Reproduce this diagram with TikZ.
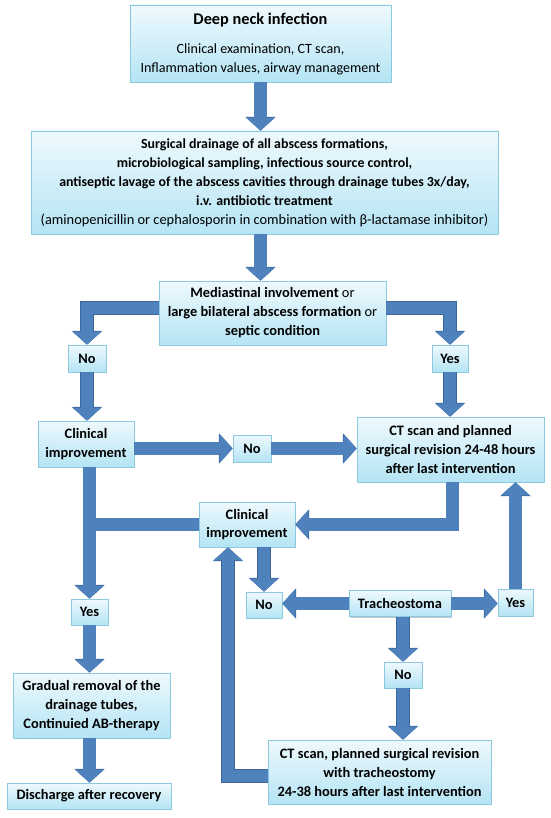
\documentclass[tikz,border=0pt]{standalone}
\usepackage{fontspec}
\setmainfont{Carlito}
\usetikzlibrary{arrows.meta,shadows,calc}
\definecolor{boxtop}{HTML}{EEF9FD}
\definecolor{boxbot}{HTML}{B4E4F4}
\definecolor{boxline}{HTML}{8CC8DF}
\definecolor{arrfill}{HTML}{4F81BD}
\definecolor{arrline}{HTML}{3B679B}
\begin{document}
\begin{tikzpicture}[x=1pt,y=-1pt,
  box/.style={draw=boxline, line width=0.6pt, top color=boxtop, bottom color=boxbot,
    align=center, font=\bfseries\fontsize{14.4}{18.5}\selectfont, inner sep=0pt,
    drop shadow={opacity=0.22, shadow xshift=1.2pt, shadow yshift=-1.2pt, fill=black}},
  arr/.style={line width=12.5pt, draw=arrfill, line join=miter,
    -{Triangle[width=28pt,length=13pt]},
    preaction={draw=arrline, line width=13.6pt, line join=miter, -{Triangle[width=29.5pt,length=13.8pt]}}},
  bar/.style={line width=12.5pt, draw=arrfill, preaction={draw=arrline, line width=13.6pt}}
]
\useasboundingbox (0,0) rectangle (550,818);
% boxes
\node[box, minimum width=261pt, minimum height=77pt] (b1) at (260.5,43.5)
  {{\fontsize{16.3}{17}\selectfont Deep neck infection}\\[11pt]
   \mdseries\fontsize{14.1}{19}\selectfont Clinical examination, CT scan,\\
   \mdseries\fontsize{14.1}{19}\selectfont Inflammation values, airway management};
\node[box, minimum width=467pt, minimum height=103pt, font=\bfseries\fontsize{13.9}{19}\selectfont] (b2) at (264.5,182.5)
  {Surgical drainage of all abscess formations,\\
   microbiological sampling, infectious source control,\\
   antiseptic lavage of the abscess cavities through drainage tubes 3x/day,\\
   i.v. antibiotic treatment\\
   \mdseries\fontsize{14.4}{19}\selectfont (aminopenicillin or cephalosporin in combination with β-lactamase inhibitor)};
\node[box, minimum width=227pt, minimum height=64pt, font=\bfseries\fontsize{14.4}{19}\selectfont] (b3) at (272.5,313)
  {Mediastinal involvement {\mdseries or}\\
   large bilateral abscess formation {\mdseries or}\\
   septic condition};
\node[box, minimum width=38pt, minimum height=27pt] (noL) at (87,358.5) {No};
\node[box, minimum width=36pt, minimum height=27pt] (yesT) at (450,358.5) {Yes};
\node[box, minimum width=96pt, minimum height=46pt] (cl1) at (86,444) {Clinical\\improvement};
\node[box, minimum width=38pt, minimum height=27pt] (noM) at (252,448.5) {No};
\node[box, minimum width=187pt, minimum height=65pt, font=\bfseries\fontsize{14.4}{19}\selectfont] (ct1) at (450.5,449.5)
  {CT scan and planned\\surgical revision 24-48 hours\\after last intervention};
\node[box, minimum width=96pt, minimum height=45pt] (cl2) at (247,524.5) {Clinical\\improvement};
\node[box, minimum width=36pt, minimum height=26pt] (noT) at (264,605) {No};
\node[box, minimum width=102pt, minimum height=26pt] (tr) at (400,603.5) {Tracheostoma};
\node[box, minimum width=35pt, minimum height=27pt] (yesR) at (515.5,602.5) {Yes};
\node[box, minimum width=38pt, minimum height=26pt] (noB) at (403,675) {No};
\node[box, minimum width=223pt, minimum height=64pt, font=\bfseries\fontsize{14.4}{19}\selectfont] (ct2) at (379.5,772)
  {CT scan, planned surgical revision\\with tracheostomy\\24-38 hours after last intervention};
\node[box, minimum width=37pt, minimum height=26pt] (yesL) at (89.5,612) {Yes};
\node[box, minimum width=157pt, minimum height=65pt, font=\bfseries\fontsize{14.4}{19}\selectfont] (grad) at (91.5,705.5)
  {Gradual removal of the\\drainage tubes,\\Continuied AB-therapy};
\node[box, minimum width=164pt, minimum height=26pt] (dis) at (89,796) {Discharge after recovery};
% connectors
\draw[arr] (b1.south) -- (b1.south |- b2.north);
\draw[arr] (b1.south |- b2.south) -- (b1.south |- b3.north);
\draw[arr] ([yshift=5pt]b3.west) -| (noL.north);
\draw[arr] ([yshift=5pt]b3.east) -| (yesT.north);
\draw[arr] (noL.south) -- (noL.south |- cl1.north);
\draw[arr] (yesT.south) -- (yesT.south |- ct1.north);
\draw[arr] (cl1.east |- noM.west) -- (noM.west);
\draw[arr] (noM.east) -- (noM.east -| ct1.west);
\draw[arr] ([xshift=2pt]ct1.south) |- (cl2.east);
\draw[bar] (cl2.west) -- ([xshift=-6pt]cl2.west -| yesL.north);
\draw[arr] (yesL.north |- cl1.south) -- (yesL.north);
\draw[arr] (yesL.south) -- (yesL.south |- grad.north);
\draw[arr] (yesL.south |- grad.south) -- (yesL.south |- dis.north);
\draw[arr] (noT.north |- cl2.south) -- (noT.north);
\draw[arr] (tr.west) -- (tr.west -| noT.east);
\draw[arr] (tr.east) -- (tr.east -| yesR.west);
\draw[arr] (yesR.north) -- (yesR.north |- ct1.south);
\draw[arr] (noB.north |- tr.south) -- (noB.north);
\draw[arr] (noB.south) -- (noB.south |- ct2.north);
\draw[arr] ([yshift=-4pt]ct2.west) -| ([xshift=-19pt]cl2.south);
\end{tikzpicture}
\end{document}
